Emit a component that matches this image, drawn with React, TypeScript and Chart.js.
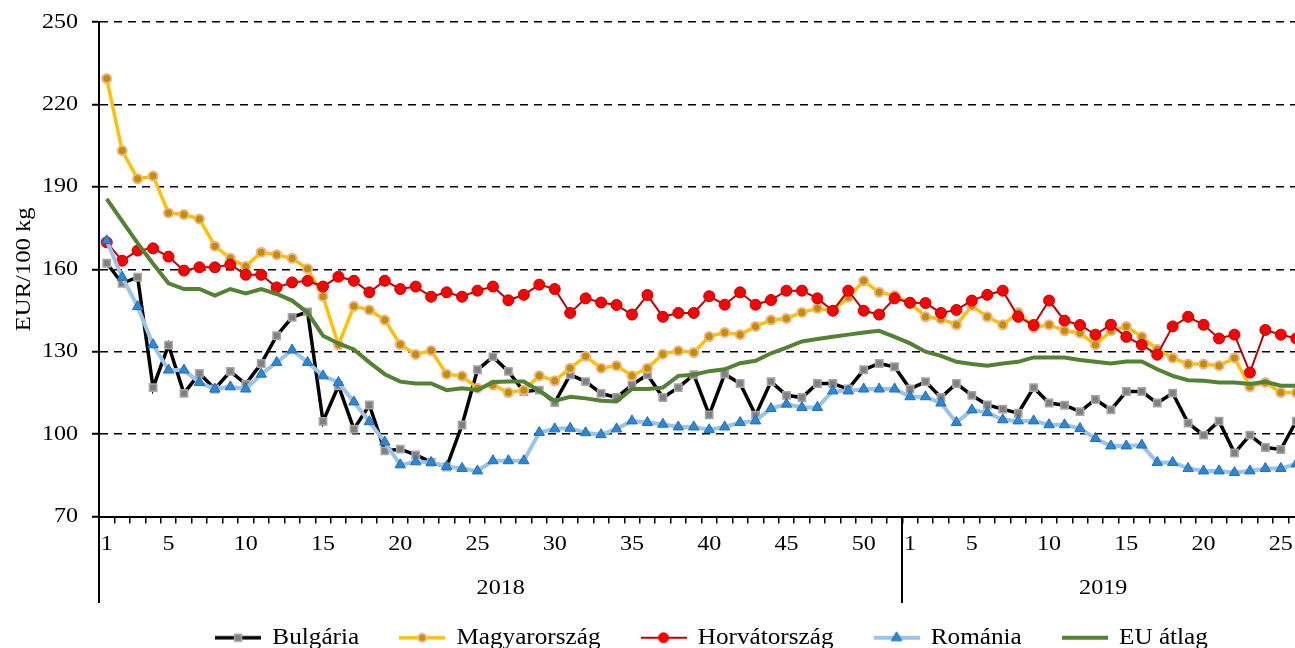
import React, { useEffect, useRef } from 'react';
import { Chart, registerables } from 'chart.js';

Chart.register(...registerables);

// ---- Data ----
const weeks2018 = ['1','2','3','4','5','6','7','8','9','10','11','12','13','14','15','16','17','18','19','20','21','22','23','24','25','26','27','28','29','30','31','32','33','34','35','36','37','38','39','40','41','42','43','44','45','46','47','48','49','50','51','52'];
const weeks2019 = ['1','2','3','4','5','6','7','8','9','10','11','12','13','14','15','16','17','18','19','20','21','22','23','24','25','26'];
const categories = [...weeks2018, ...weeks2019];
const shownWeekTicks = ['1','5','10','15','20','25','30','35','40','45','50'];
const yearLabels = ['2018', '2019'];
const yTicks = [70, 100, 130, 160, 190, 220, 250];

const bulgaria = [
  162.2, 154.9, 157.1, 116.9, 132.4, 114.8, 122.1, 116.4, 122.8, 118.2, 125.7, 135.8, 142.5, 144.5,
  104.6, 117.6, 101.8, 110.6, 93.9, 94.5, 92.4, 89.8, 88.0, 103.3, 123.4, 128.1, 122.8,
  115.5, 116.0, 111.5, 121.6, 119.1, 114.8, 113.3, 117.9, 121.6, 113.3, 116.9, 121.6, 107.0,
  121.8, 118.4, 106.9, 119.1, 114.1, 113.3, 118.4, 118.4, 116.4, 123.4, 125.7, 124.5, 116.4,
  119.1, 113.3, 118.4, 114.1, 110.6, 109.1, 107.6, 116.9, 111.3, 110.5, 108.2, 112.6,
  108.8, 115.5, 115.5, 111.3, 114.9, 104.0, 99.6, 104.7, 93.1, 99.6, 95.1, 94.4, 104.7
];
const magyarorszag = [
  229.4, 203.2, 192.9, 193.9, 180.5, 179.9, 178.3, 168.4, 164.0, 161.0, 166.2, 165.3, 164.0, 160.2,
  150.1, 132.5, 146.5, 145.2, 141.5, 132.6, 129.0, 130.4, 121.8, 121.1, 116.7, 117.9, 115.1,
  116.0, 121.2, 119.4, 124.0, 128.3, 124.0, 124.9, 121.2, 124.0, 129.1, 130.3, 129.7, 135.5,
  137.0, 136.2, 139.2, 141.5, 142.1, 144.3, 145.8, 144.9, 149.8, 155.8, 151.6, 150.4, 147.9,
  142.7, 141.9, 139.8, 146.7, 142.7, 139.8, 144.3, 138.8, 139.8, 137.6, 136.8, 132.5,
  137.6, 139.2, 135.4, 130.9, 127.7, 125.5, 125.5, 124.9, 127.7, 117.2, 118.8, 115.1, 115.1
];
const horvatorszag = [
  169.8, 163.1, 166.8, 167.6, 164.6, 159.5, 160.7, 160.7, 161.7, 158.0, 158.0, 153.4, 155.2, 155.8,
  153.7, 157.3, 155.8, 151.6, 155.8, 152.8, 153.7, 150.0, 151.6, 150.0, 152.2, 153.7, 148.7,
  150.7, 154.4, 152.8, 144.1, 149.4, 147.9, 147.0, 143.5, 150.6, 142.7, 144.1, 144.1, 150.2,
  147.1, 151.6, 147.1, 148.8, 152.2, 152.2, 149.4, 144.9, 152.2, 144.9, 143.5, 149.4, 147.8,
  147.7, 144.1, 145.2, 148.6, 150.7, 152.2, 142.7, 139.7, 148.6, 141.3, 139.7, 136.2,
  139.8, 135.4, 132.5, 128.9, 139.2, 142.7, 139.8, 134.8, 136.2, 122.4, 137.9, 136.2, 134.8
];
const romania = [
  170.4, 157.1, 146.4, 132.5, 123.3, 123.3, 118.8, 116.4, 117.2, 116.4, 121.8, 126.1, 130.6, 126.1,
  121.2, 118.8, 111.7, 104.5, 97.1, 88.8, 89.9, 89.7, 88.2, 87.5, 86.6, 90.3, 90.3,
  90.3, 100.6, 101.9, 102.1, 100.5, 99.8, 101.9, 104.8, 104.2, 103.6, 102.6, 102.6, 101.6,
  102.6, 104.2, 104.8, 109.3, 110.9, 109.7, 109.7, 115.7, 115.7, 116.4, 116.4, 116.4, 113.6,
  113.6, 111.3, 104.2, 108.8, 107.8, 105.2, 104.8, 104.8, 103.4, 103.4, 102.0, 98.4,
  95.7, 95.7, 96.0, 89.7, 89.7, 87.5, 86.6, 86.6, 86.0, 86.6, 87.5, 87.5, 89.1
];
const euAtlag = [
  185.6, 177.5, 169.5, 162.0, 154.9, 152.8, 152.8, 150.4, 152.8, 151.2, 152.8, 151.0, 148.6, 144.2,
  135.8, 133.0, 130.8, 126.1, 121.8, 119.1, 118.4, 118.4, 116.0, 116.7, 116.0, 119.0, 119.1,
  119.1, 115.7, 112.1, 113.6, 113.0, 112.1, 111.9, 116.4, 116.4, 116.9, 121.2, 121.6, 122.9,
  123.6, 125.8, 126.7, 129.4, 131.5, 133.7, 134.6, 135.4, 136.2, 137.0, 137.6, 135.4, 133.0,
  130.0, 128.5, 126.3, 125.5, 124.9, 125.7, 126.3, 127.9, 127.9, 127.9, 127.0, 126.3,
  125.7, 126.4, 126.4, 123.6, 121.2, 119.6, 119.4, 118.8, 118.8, 118.2, 119.0, 117.6, 117.6
];

const FONT = '"Liberation Serif", "Times New Roman", serif';
const TEXT_STRETCH = 1.12; // the reference's serif text is drawn slightly wide

type Marker = 'rect' | 'circle' | 'triangle' | 'none';

function makeIcon(lineColor: string, lineWidth: number, marker: Marker, fill: string, stroke: string, r: number, bw: number) {
  const c = document.createElement('canvas');
  c.width = 46;
  c.height = 16;
  const g = c.getContext('2d')!;
  g.strokeStyle = lineColor;
  g.lineWidth = lineWidth;
  g.beginPath();
  g.moveTo(0, 8);
  g.lineTo(46, 8);
  g.stroke();
  g.fillStyle = fill;
  g.strokeStyle = stroke;
  g.lineWidth = bw;
  if (marker === 'rect') {
    g.beginPath();
    g.rect(23 - r, 8 - r, 2 * r, 2 * r);
    g.fill();
    g.stroke();
  } else if (marker === 'circle') {
    g.beginPath();
    g.arc(23, 8, r, 0, Math.PI * 2);
    g.fill();
    g.stroke();
  } else if (marker === 'triangle') {
    g.beginPath();
    g.moveTo(23, 8 - r);
    g.lineTo(23 + r * 0.87, 8 + r * 0.5);
    g.lineTo(23 - r * 0.87, 8 + r * 0.5);
    g.closePath();
    g.fill();
    g.stroke();
  }
  return c;
}

function stretchText(ctx: any, sx: number) {
  const origFill = ctx.fillText.bind(ctx);
  const origMeasure = ctx.measureText.bind(ctx);
  ctx.fillText = (text: string, x: number, y: number, maxWidth?: number) => {
    ctx.save();
    ctx.translate(x, y);
    ctx.scale(sx, 1);
    if (maxWidth !== undefined) origFill(text, 0, 0, maxWidth / sx);
    else origFill(text, 0, 0);
    ctx.restore();
  };
  ctx.measureText = (text: string) => {
    const m = origMeasure(text);
    return {
      width: m.width * sx,
      actualBoundingBoxAscent: m.actualBoundingBoxAscent,
      actualBoundingBoxDescent: m.actualBoundingBoxDescent,
      actualBoundingBoxLeft: m.actualBoundingBoxLeft * sx,
      actualBoundingBoxRight: m.actualBoundingBoxRight * sx,
      fontBoundingBoxAscent: m.fontBoundingBoxAscent,
      fontBoundingBoxDescent: m.fontBoundingBoxDescent,
    };
  };
}

const yearAxisPlugin = {
  id: 'yearAxis',
  afterLayout(chart: any) {
    // nudge the centred legend row to the right, as in the reference
    if (chart.legend) {
      chart.legend.left += 10;
      chart.legend.right += 10;
    }
  },
  afterDraw(chart: any) {
    const xs = chart.scales.x;
    const ctx = chart.ctx;
    const bottom = chart.chartArea.bottom;
    const bounds = [-0.5, weeks2018.length - 0.5, categories.length - 0.5];
    ctx.save();
    ctx.strokeStyle = '#000';
    ctx.lineWidth = 2;
    for (let i = 0; i < 2; i++) {
      const px = Math.round(xs.getPixelForValue(bounds[i]));
      ctx.beginPath();
      ctx.moveTo(px, bottom);
      ctx.lineTo(px, 603);
      ctx.stroke();
    }
    ctx.font = '21.5px ' + FONT;
    ctx.fillStyle = '#000';
    ctx.textAlign = 'center';
    ctx.textBaseline = 'middle';
    yearLabels.forEach((lab, i) => {
      const cx = (xs.getPixelForValue(bounds[i]) + xs.getPixelForValue(bounds[i + 1])) / 2;
      ctx.fillText(lab, cx, 588);
    });
    ctx.restore();
  },
};

export default function App() {
  const ref = useRef<HTMLCanvasElement | null>(null);

  useEffect(() => {
    const canvas = ref.current;
    if (!canvas) return;
    const ctx2d = canvas.getContext('2d');
    stretchText(ctx2d, TEXT_STRETCH);
    const icons = [
      makeIcon('#000000', 3.5, 'rect', '#808080', '#A6A6A6', 3.5, 1.5),
      makeIcon('#FFC000', 3.5, 'circle', '#BF9000', '#F4B183', 4, 2),
      makeIcon('#C00000', 2, 'circle', '#FF0000', '#C00000', 5, 1),
      makeIcon('#9DC3E6', 4, 'triangle', '#2E86D6', '#1F6FB8', 6, 1),
      makeIcon('#548235', 4, 'none', '#548235', '#548235', 0, 0),
    ];
    const chart = new Chart(canvas, {
      type: 'line',
      data: {
        labels: categories,
        datasets: [
          {
            label: 'Bulgária', data: bulgaria, order: 4,
            borderColor: '#000000', borderWidth: 3.5,
            pointStyle: 'rect', pointRadius: 5.2, pointBackgroundColor: '#808080',
            pointBorderColor: '#A6A6A6', pointBorderWidth: 1.5, tension: 0,
          },
          {
            label: 'Magyarország', data: magyarorszag, order: 3,
            borderColor: '#FFC000', borderWidth: 3.5,
            pointStyle: 'circle', pointRadius: 4.5, pointBackgroundColor: '#BF9000',
            pointBorderColor: '#F4B183', pointBorderWidth: 2, tension: 0,
          },
          {
            label: 'Horvátország', data: horvatorszag, order: 2,
            borderColor: '#C00000', borderWidth: 2,
            pointStyle: 'circle', pointRadius: 5.5, pointBackgroundColor: '#FF0000',
            pointBorderColor: '#C00000', pointBorderWidth: 1, tension: 0,
          },
          {
            label: 'Románia', data: romania, order: 1,
            borderColor: '#9DC3E6', borderWidth: 4,
            pointStyle: 'triangle', pointRadius: 6, pointBackgroundColor: '#2E86D6',
            pointBorderColor: '#1F6FB8', pointBorderWidth: 1, tension: 0,
          },
          {
            label: 'EU átlag', data: euAtlag, order: 0,
            borderColor: '#548235', borderWidth: 4, pointRadius: 0, tension: 0,
          },
        ],
      },
      options: {
        responsive: false,
        animation: false,
        layout: { padding: { top: 22, left: 0, right: 0, bottom: 0 } },
        scales: {
          x: {
            type: 'category',
            offset: true,
            afterFit: (s: any) => { s.height = 70; },
            grid: {
              display: true, drawOnChartArea: false, drawTicks: true, offset: true,
              tickLength: 7, color: '#000', tickColor: '#000', lineWidth: 1.5,
            },
            border: { display: true, color: '#000', width: 2 },
            ticks: {
              autoSkip: false, maxRotation: 0, minRotation: 0, padding: 8,
              color: '#000', font: { family: FONT, size: 21.5 },
              callback: (_v: any, idx: number) => {
                const lab = categories[idx];
                return shownWeekTicks.includes(lab) ? lab : '';
              },
            },
          },
          y: {
            min: 70, max: 250,
            afterFit: (s: any) => { s.width = 99; s.paddingTop = 10; s.paddingBottom = 10; },
            afterBuildTicks: (s: any) => { s.ticks = yTicks.map((v) => ({ value: v })); },
            grid: {
              color: '#000', lineWidth: 1.5, tickLength: 7, tickColor: '#000', tickWidth: 2,
            },
            border: { display: true, color: '#000', width: 2, dash: [8, 6] },
            ticks: {
              padding: 14, color: '#000', font: { family: FONT, size: 21.5 },
            },
            title: {
              display: true, text: 'EUR/100 kg', color: '#000',
              font: { family: FONT, size: 22 }, padding: { top: 11, bottom: 0 },
            },
          },
        },
        plugins: {
          tooltip: { enabled: false },
          legend: {
            display: true,
            position: 'bottom',
            fullSize: false,
            labels: {
              usePointStyle: true,
              pointStyleWidth: 46,
              padding: 40,
              color: '#000',
              font: { family: FONT, size: 22.5 },
              generateLabels: (ch: any) =>
                ch.data.datasets.map((ds: any, i: number) => ({
                  text: ds.label,
                  fillStyle: ds.borderColor,
                  strokeStyle: ds.borderColor,
                  lineWidth: 0,
                  pointStyle: icons[i],
                  hidden: false,
                  datasetIndex: i,
                  fontColor: '#000',
                })),
            },
          },
        },
      },
      plugins: [yearAxisPlugin],
    } as any);
    return () => chart.destroy();
  }, []);

  return (
    <div style={{ position: 'fixed', left: 0, top: 0, width: 1295, height: 648, overflow: 'hidden', background: '#fff' }}>
      <canvas ref={ref} width={1311} height={659} style={{ width: '1311px', height: '659px', display: 'block' }} />
    </div>
  );
}
